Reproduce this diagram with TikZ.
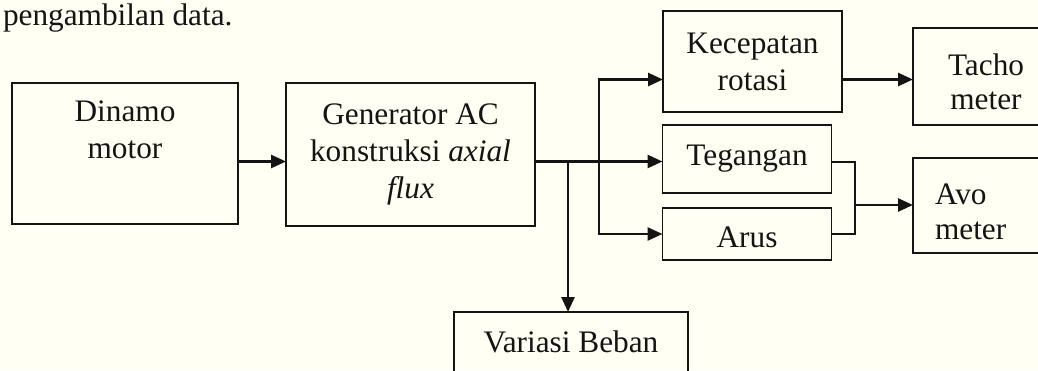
\documentclass[tikz,border=0pt]{standalone}
\usepackage{fontspec}
\setmainfont{Liberation Serif}
\usetikzlibrary{positioning,arrows.meta}
\definecolor{kertas}{RGB}{255,255,243}
\definecolor{garis}{RGB}{20,20,20}

\begin{document}
\begin{tikzpicture}[x=1pt,y=-1pt,
                    every node/.style={inner sep=0pt,outer sep=0pt,text=garis,
                                       font=\fontsize{31.3}{37}\selectfont},
                    blok/.style={draw=garis,line width=2.2pt},
                    tipis/.style={draw=garis,line width=1.5pt,align=center},
                    teks/.style={align=center},
                    rapat/.style={font=\fontsize{31.3}{34.5}\selectfont},
                    panah/.style={draw=garis,line width=2.6pt,-{Triangle[length=15pt,width=13pt]}},
                    sambung/.style={draw=garis,line width=2pt}]
  \useasboundingbox (0,0) rectangle (1038,370);
  \fill[kertas] (0,0) rectangle (1038,370);
  \clip (0,0) rectangle (1038,370);
  \node[anchor=base west] (judul) at (3,25) {pengambilan data.};
  % kotak
  \node[blok,minimum width=226,minimum height=141] (dinamo) at (125,153.5) {};
  \node[blok,minimum width=249,minimum height=143] (gen) at (410.5,154.5) {};
  \node[tipis,minimum width=179,minimum height=101] (kec) at (752.5,61.5) {Kecepatan\\rotasi};
  \node[tipis,minimum width=169,minimum height=68] (teg) at (747,159) {Tegangan};
  \node[tipis,minimum width=169,minimum height=52,text height=28pt] (arus) at (747,234) {Arus};
  \node[blok,minimum width=146,minimum height=97] (tacho) at (986,76.5) {};
  \node[blok,minimum width=146,minimum height=95] (avo) at (986,205.5) {};
  \node[blok,minimum width=234,minimum height=73] (variasi) at (571,348.5) {};
  % isi kotak
  \node[teks,anchor=north,below=17.6pt of dinamo.north] (dinamoT) {Dinamo\\motor};
  \node[teks,anchor=north,below=20.8pt of gen.north] (genT) {Generator AC\\konstruksi \textit{axial}\\\textit{flux}};
  \node[teks,rapat,below=25.6pt of tacho.north] (tachoT) {Tacho\\meter};
  \node[rapat,align=left,below right=26pt and 22pt of avo.north west] (avoT) {Avo\\meter};
  \node[teks,below=18.6pt of variasi.north] (variasiT) {Variasi Beban};
  % percabangan
  \coordinate (bus) at (568,161.5);
  \coordinate (cab) at (599,161.5);
  \coordinate (rot) at (599,79.5);
  \coordinate (gab) at (855,205);
  \draw[panah] (dinamo.east |- bus) -- (gen.west |- bus);
  \draw[panah] (gen.east |- bus) -- (teg.west |- bus);
  \draw[panah] (bus) -- (bus |- variasi.north);
  \draw[panah] (cab) -- (rot) -- (kec.west |- rot);
  \draw[panah] (cab) |- (arus.west);
  \draw[panah] (kec.east |- rot) -- (tacho.west |- rot);
  \draw[sambung] (teg.east |- bus) -| (gab |- arus.east) -- (arus.east);
  \draw[panah] (gab) -- (avo.west |- gab);
\end{tikzpicture}
\end{document}
